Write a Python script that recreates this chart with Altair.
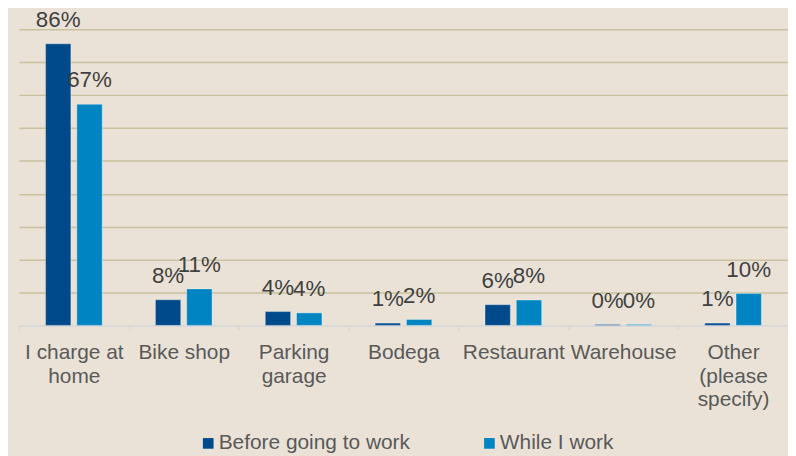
import altair as alt
import pandas as pd

categories = ["I charge at home", "Bike shop", "Parking garage", "Bodega",
              "Restaurant", "Warehouse", "Other (please specify)"]
label_lines = [["I charge at", "home"], ["Bike shop"], ["Parking", "garage"], ["Bodega"],
               ["Restaurant"], ["Warehouse"], ["Other", "(please", "specify)"]]
series = ["Before going to work", "While I work"]
before_work = [85.6, 7.8, 4.2, 0.7, 6.3, 0.3, 0.7]
while_work = [67.2, 11.1, 3.8, 1.8, 7.7, 0.3, 9.7]
colors = ["#004A8C", "#0084C2"]

rows = []
for i, c in enumerate(categories):
    for s, vals in zip(series, [before_work, while_work]):
        rows.append({"category": c, "series": s, "value": vals[i], "frac": vals[i] / 100})
df = pd.DataFrame(rows)

# multi-line axis labels
expr = "datum.label"
for c, lines in reversed(list(zip(categories, label_lines))):
    arr = "[" + ",".join("'" + l + "'" for l in lines) + "]"
    expr = f"datum.label == '{c}' ? {arr} : ({expr})"

FONT = "Liberation Sans"

x = alt.X("category:N", sort=categories, title=None,
          scale=alt.Scale(paddingInner=0, paddingOuter=0),
          axis=alt.Axis(labelExpr=expr, labelAngle=0, labelFontSize=21, labelColor="#595959",
                        labelFont=FONT, labelLineHeight=24, labelPadding=11,
                        tickBand="extent", tickSize=5, tickColor="#D9D9D9", tickWidth=2,
                        domainColor="#D9D9D9", domainWidth=2, grid=False,
                        labelBaseline="top"))
xo = alt.XOffset("series:N", sort=series,
                 scale=alt.Scale(paddingInner=0.19, paddingOuter=0.85))
y = alt.Y("value:Q", title=None,
          scale=alt.Scale(domain=[0, 90], nice=False),
          axis=alt.Axis(values=[10, 20, 30, 40, 50, 60, 70, 80, 90], labels=False, ticks=False,
                        domain=False, grid=True, gridColor="#C9C19E", gridWidth=1.5))

color = alt.Color("series:N", sort=series, title=None,
                  scale=alt.Scale(domain=series, range=colors),
                  legend=alt.Legend(orient="none", legendX=180, legendY=406, direction="horizontal",
                                    symbolType="square", symbolSize=115, symbolStrokeWidth=0,
                                    labelFontSize=21, labelColor="#595959", labelFont=FONT,
                                    labelOffset=0, labelLimit=0, columnPadding=69, padding=0))

bars = alt.Chart(df).mark_bar(stroke="#FFFFFF", strokeOpacity=0.35, strokeWidth=1).encode(
    x=x, xOffset=xo, y=y, color=color)
labels = alt.Chart(df).mark_text(dy=-17, baseline="alphabetic", fontSize=22.5, color="#404040",
                                 font=FONT).encode(
    x=x, xOffset=xo, y=y, text=alt.Text("frac:Q", format=".0%"))

chart = alt.layer(bars, labels).properties(
    width=774, height=298,
    autosize=alt.AutoSizeParams(type="none"),
    padding={"left": 11, "top": 20, "right": 0, "bottom": 130},
    background="#EAE2D7",
).configure_view(stroke=None)

chart.save("out.html", embed_options={"renderer": "svg", "actions": False})
